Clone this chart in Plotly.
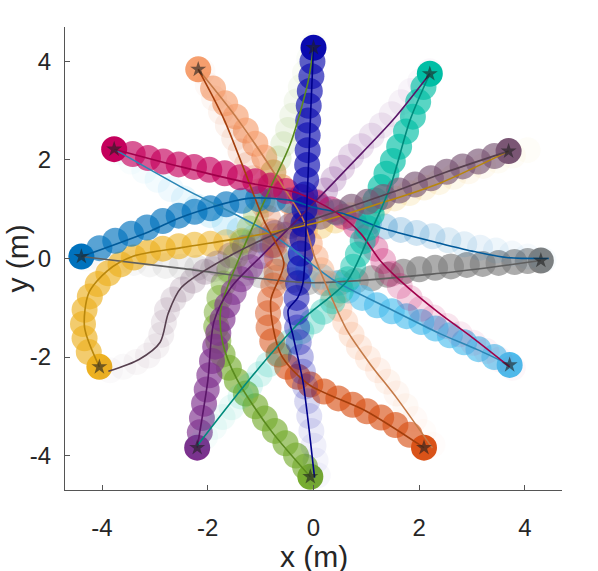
import plotly.graph_objects as go

# trail centres for each robot, from start (faded) to end (solid)
navy_x = [0.08, 0.04, 0.0, -0.04, -0.08, -0.12, -0.16, -0.2, -0.24, -0.28, -0.31, -0.33, -0.32, -0.29, -0.26, -0.24, -0.21, -0.19, -0.17, -0.16, -0.14, -0.12, -0.11, -0.11, -0.1, -0.09, -0.07, -0.04, -0.02, 0.0]
navy_y = [-4.4, -4.1, -3.8, -3.5, -3.2, -2.9, -2.6, -2.3, -2.0, -1.7, -1.4, -1.1, -0.8, -0.5, -0.2, 0.1, 0.4, 0.7, 1.0, 1.3, 1.6, 1.9, 2.2, 2.5, 2.8, 3.1, 3.4, 3.7, 4.0, 4.28]
navy_line_x = [0.0, -0.06, -0.13, -0.2, -0.3, -0.48, -0.38, -0.2, -0.08, 0.02]
navy_line_y = [4.3, 2.8, 1.0, -0.5, -0.8, -1.05, -1.6, -2.5, -3.5, -4.45]

teal_x = [-2.2, -2.05, -1.88, -1.72, -1.55, -1.38, -1.2, -1.02, -0.85, -0.65, -0.45, -0.23, -0.02, 0.18, 0.36, 0.52, 0.65, 0.75, 0.84, 0.93, 1.02, 1.1, 1.17, 1.27, 1.38, 1.5, 1.62, 1.75, 1.88, 1.98, 2.08, 2.2]
teal_y = [-3.8, -3.62, -3.42, -3.22, -3.02, -2.8, -2.58, -2.35, -2.15, -1.93, -1.7, -1.48, -1.28, -1.08, -0.87, -0.65, -0.42, -0.17, 0.08, 0.35, 0.62, 0.9, 1.18, 1.45, 1.72, 1.98, 2.27, 2.58, 2.88, 3.18, 3.48, 3.75]
teal_line_x = [-2.2, -1.24, -0.24, 0.64, 1.07, 1.45, 1.83, 2.2]
teal_line_y = [-3.8, -2.49, -1.27, -0.45, 0.51, 1.45, 2.82, 3.75]

mauve_x = [-3.85, -3.6, -3.35, -3.13, -2.97, -2.88, -2.83, -2.77, -2.65, -2.48, -2.28, -2.05, -1.82, -1.57, -1.3, -1.02, -0.73, -0.44, -0.15, 0.13, 0.42, 0.72, 1.02, 1.32, 1.62, 1.92, 2.22, 2.52, 2.82, 3.12, 3.42, 3.69]
mauve_y = [-2.27, -2.2, -2.1, -1.97, -1.78, -1.55, -1.3, -1.05, -0.83, -0.63, -0.45, -0.27, -0.1, 0.06, 0.22, 0.38, 0.52, 0.66, 0.78, 0.85, 0.95, 1.05, 1.15, 1.25, 1.38, 1.5, 1.63, 1.76, 1.87, 1.97, 2.08, 2.18]
mauve_line_x = [-3.88, -3.3, -2.9, -2.75, -2.5, -1.5, -0.43, 0.5, 1.5, 2.5, 3.69]
mauve_line_y = [-2.29, -2.05, -1.7, -1.12, -0.59, 0.1, 0.63, 0.98, 1.35, 1.75, 2.18]

gray_x = [-4.3, -4.0, -3.7, -3.4, -3.1, -2.8, -2.5, -2.2, -1.9, -1.6, -1.3, -1.0, -0.7, -0.4, -0.1, 0.2, 0.5, 0.8, 1.1, 1.4, 1.7, 2.0, 2.3, 2.6, 2.9, 3.2, 3.5, 3.8, 4.05, 4.3]
gray_y = [0.0, -0.03, -0.06, -0.09, -0.12, -0.15, -0.17, -0.19, -0.22, -0.26, -0.3, -0.34, -0.39, -0.44, -0.48, -0.5, -0.49, -0.45, -0.4, -0.33, -0.27, -0.22, -0.19, -0.16, -0.13, -0.11, -0.09, -0.07, -0.05, -0.04]
gray_line_x = [-4.39, -2.5, -0.1, 2.4, 4.3]
gray_line_y = [0.04, -0.2, -0.49, -0.3, -0.04]

sky_x = [-3.71, -3.45, -3.2, -2.95, -2.7, -2.45, -2.2, -1.95, -1.68, -1.4, -1.12, -0.85, -0.6, -0.35, -0.1, 0.15, 0.4, 0.65, 0.92, 1.2, 1.48, 1.76, 2.04, 2.31, 2.58, 2.85, 3.12, 3.42, 3.71]
sky_y = [2.16, 1.97, 1.78, 1.6, 1.41, 1.22, 1.05, 0.88, 0.73, 0.58, 0.43, 0.27, 0.1, -0.08, -0.23, -0.37, -0.51, -0.65, -0.8, -0.95, -1.07, -1.17, -1.29, -1.42, -1.56, -1.7, -1.84, -2.0, -2.16]
sky_line_x = [-3.77, -2.5, -0.8, 0.4, 1.4, 2.4, 3.1, 3.71]
sky_line_y = [2.22, 1.45, 0.5, -0.45, -1.0, -1.53, -1.85, -2.16]

orange_x = [-2.1, -2.0, -1.88, -1.75, -1.62, -1.5, -1.38, -1.26, -1.14, -1.03, -0.94, -0.86, -0.79, -0.73, -0.69, -0.7, -0.76, -0.82, -0.86, -0.85, -0.78, -0.66, -0.5, -0.3, -0.06, 0.2, 0.47, 0.74, 1.01, 1.28, 1.55, 1.82, 2.09]
orange_y = [3.8, 3.52, 3.25, 2.98, 2.71, 2.44, 2.17, 1.9, 1.63, 1.36, 1.09, 0.82, 0.55, 0.28, 0.01, -0.27, -0.55, -0.83, -1.11, -1.4, -1.68, -1.95, -2.2, -2.4, -2.56, -2.7, -2.84, -2.97, -3.1, -3.23, -3.38, -3.58, -3.84]
orange_line_x = [-2.18, -1.69, -0.94, -0.56, -0.81, -0.62, -0.1, 1.0, 2.09]
orange_line_y = [3.84, 2.82, 0.78, -0.1, -0.86, -1.94, -2.55, -3.1, -3.84]

green_x = [0.0, -0.08, -0.16, -0.24, -0.32, -0.4, -0.48, -0.57, -0.66, -0.76, -0.86, -0.97, -1.09, -1.21, -1.34, -1.47, -1.59, -1.7, -1.78, -1.83, -1.84, -1.8, -1.72, -1.6, -1.45, -1.28, -1.1, -0.92, -0.73, -0.53, -0.33, -0.16, -0.06]
green_y = [4.35, 4.06, 3.77, 3.48, 3.19, 2.9, 2.61, 2.32, 2.03, 1.74, 1.45, 1.17, 0.89, 0.61, 0.33, 0.05, -0.23, -0.51, -0.8, -1.09, -1.38, -1.67, -1.95, -2.22, -2.48, -2.74, -3.0, -3.25, -3.5, -3.75, -4.0, -4.23, -4.43]
green_line_x = [0.0, -0.1, -0.43, -0.81, -1.37, -1.75, -1.72, -1.45, -0.8, -0.06]
green_line_y = [4.3, 3.6, 2.35, 1.45, 0.1, -1.0, -1.7, -2.45, -3.5, -4.43]

purple_x = [2.2, 2.02, 1.84, 1.66, 1.48, 1.29, 1.1, 0.9, 0.71, 0.54, 0.38, 0.22, 0.05, -0.13, -0.33, -0.55, -0.78, -1.0, -1.2, -1.37, -1.51, -1.63, -1.72, -1.8, -1.86, -1.92, -1.97, -2.02, -2.07, -2.11, -2.15, -2.2]
purple_y = [3.8, 3.6, 3.4, 3.17, 2.93, 2.7, 2.49, 2.28, 2.07, 1.84, 1.61, 1.38, 1.15, 0.92, 0.7, 0.48, 0.27, 0.05, -0.18, -0.42, -0.68, -0.95, -1.23, -1.51, -1.79, -2.08, -2.37, -2.66, -2.95, -3.24, -3.53, -3.84]
purple_line_x = [2.2, 1.51, 0.7, 0.0, -0.94, -1.56, -1.88, -2.0, -2.2]
purple_line_y = [3.75, 2.82, 1.9, 1.12, 0.1, -0.59, -1.27, -2.49, -3.84]

yellow_x = [4.05, 3.77, 3.49, 3.21, 2.93, 2.65, 2.37, 2.09, 1.81, 1.53, 1.25, 0.97, 0.69, 0.41, 0.13, -0.16, -0.45, -0.75, -1.05, -1.35, -1.65, -1.95, -2.25, -2.55, -2.85, -3.13, -3.4, -3.65, -3.88, -4.08, -4.23, -4.33, -4.36, -4.33, -4.25, -4.05]
yellow_y = [2.2, 2.09, 1.99, 1.88, 1.77, 1.66, 1.55, 1.44, 1.33, 1.22, 1.11, 0.99, 0.88, 0.77, 0.66, 0.58, 0.51, 0.45, 0.4, 0.36, 0.33, 0.3, 0.28, 0.25, 0.2, 0.12, 0.02, -0.12, -0.3, -0.52, -0.77, -1.04, -1.33, -1.62, -1.9, -2.2]
yellow_line_x = [3.69, 2.39, 1.2, 0.0, -1.2, -2.5, -3.4, -3.9, -4.25, -4.33, -4.05]
yellow_line_y = [2.18, 1.53, 1.1, 0.71, 0.45, 0.22, 0.05, -0.25, -0.7, -1.4, -2.2]

blue_x = [4.35, 4.05, 3.75, 3.45, 3.15, 2.85, 2.55, 2.25, 1.95, 1.65, 1.35, 1.05, 0.75, 0.45, 0.15, -0.15, -0.45, -0.75, -1.05, -1.35, -1.65, -1.95, -2.25, -2.55, -2.85, -3.15, -3.45, -3.75, -4.05, -4.39]
blue_y = [-0.03, 0.04, 0.1, 0.16, 0.22, 0.29, 0.37, 0.45, 0.52, 0.58, 0.65, 0.73, 0.82, 0.93, 1.03, 1.12, 1.18, 1.2, 1.21, 1.17, 1.1, 1.02, 0.95, 0.87, 0.76, 0.63, 0.5, 0.36, 0.21, 0.04]
blue_line_x = [-4.39, -3.1, -2.5, -1.24, -0.43, 0.0, 0.6, 1.26, 2.39, 3.0, 3.65, 4.45]
blue_line_y = [0.04, 0.55, 0.84, 1.22, 1.18, 1.04, 0.9, 0.63, 0.31, 0.15, 0.02, 0.0]

crimson_x = [3.77, 3.52, 3.27, 3.02, 2.77, 2.52, 2.27, 2.03, 1.82, 1.63, 1.47, 1.32, 1.17, 1.0, 0.8, 0.57, 0.32, 0.05, -0.23, -0.52, -0.81, -1.1, -1.39, -1.68, -1.97, -2.26, -2.55, -2.84, -3.13, -3.42, -3.77]
crimson_y = [-2.22, -2.05, -1.88, -1.71, -1.54, -1.37, -1.2, -1.02, -0.8, -0.56, -0.31, -0.05, 0.2, 0.44, 0.66, 0.85, 1.0, 1.13, 1.25, 1.37, 1.48, 1.57, 1.65, 1.73, 1.8, 1.86, 1.91, 1.97, 2.04, 2.12, 2.22]
crimson_line_x = [-3.77, -2.5, -1.3, -0.3, 0.45, 0.89, 1.26, 1.64, 2.39, 3.0, 3.71]
crimson_line_y = [2.22, 1.86, 1.55, 1.33, 0.92, 0.51, -0.04, -0.45, -1.12, -1.6, -2.2]

salmon_x = [2.25, 2.08, 1.91, 1.74, 1.57, 1.4, 1.22, 1.03, 0.86, 0.72, 0.6, 0.49, 0.38, 0.27, 0.15, 0.04, -0.07, -0.19, -0.32, -0.45, -0.6, -0.76, -0.93, -1.1, -1.28, -1.47, -1.67, -1.9, -2.18]
salmon_y = [-3.78, -3.52, -3.26, -3.0, -2.74, -2.5, -2.27, -2.03, -1.8, -1.55, -1.29, -1.02, -0.76, -0.5, -0.24, 0.02, 0.3, 0.57, 0.85, 1.15, 1.45, 1.75, 2.05, 2.33, 2.6, 2.88, 3.15, 3.45, 3.84]
salmon_line_x = [-2.18, -1.43, -0.6, -0.19, 0.0, 0.26, 0.64, 1.07, 1.58, 2.25]
salmon_line_y = [3.84, 2.82, 1.5, 0.78, 0.1, -0.59, -1.47, -2.14, -2.84, -3.85]

# (trail x, trail y, line x, line y, trail rgb, line colour, fade span) in drawing order
robots = [
    (gray_x, gray_y, gray_line_x, gray_line_y, (128, 128, 128), '#5f5f5f', 0.7),
    (yellow_x, yellow_y, yellow_line_x, yellow_line_y, (237, 177, 32), '#b8860b', 0.7),
    (sky_x, sky_y, sky_line_x, sky_line_y, (77, 190, 238), '#2b86b5', 0.7),
    (salmon_x, salmon_y, salmon_line_x, salmon_line_y, (246, 160, 112), '#c47a48', 0.7),
    (green_x, green_y, green_line_x, green_line_y, (119, 172, 48), '#5a8a1e', 0.7),
    (purple_x, purple_y, purple_line_x, purple_line_y, (126, 47, 142), '#5a1668', 0.7),
    (orange_x, orange_y, orange_line_x, orange_line_y, (217, 83, 25), '#a33e0c', 0.7),
    (blue_x, blue_y, blue_line_x, blue_line_y, (0, 114, 189), '#005a9a', 0.7),
    (crimson_x, crimson_y, crimson_line_x, crimson_line_y, (196, 0, 92), '#a0004a', 0.7),
    (teal_x, teal_y, teal_line_x, teal_line_y, (0, 190, 165), '#008a7c', 0.7),
    (mauve_x, mauve_y, mauve_line_x, mauve_line_y, (122, 86, 116), '#57404f', 0.7),
    (navy_x, navy_y, navy_line_x, navy_line_y, (10, 10, 175), '#00008a', 0.5),
]

fig = go.Figure()

for tx, ty, lx, ly, rgb, lc, span in robots:
    n = len(tx)
    cols = []
    for i in range(n):
        t = i / (n - 1)
        a = 1.0 if i == n - 1 else 0.03 + 0.62 * min(1.0, t / span) ** 1.5
        cols.append('rgba(%d,%d,%d,%.3f)' % (rgb[0], rgb[1], rgb[2], a))
    fig.add_trace(go.Scatter(
        x=tx, y=ty, mode='markers',
        marker=dict(size=26, color=cols, line=dict(width=0)),
        hoverinfo='skip', showlegend=False
    ))

for tx, ty, lx, ly, rgb, lc, span in robots:
    fig.add_trace(go.Scatter(
        x=lx, y=ly, mode='lines',
        line=dict(color=lc, width=1.6, shape='spline', smoothing=0.8),
        hoverinfo='skip', showlegend=False
    ))

# stars on the final positions
fig.add_trace(go.Scatter(
    x=[r[0][-1] for r in robots], y=[r[1][-1] for r in robots],
    mode='markers',
    marker=dict(symbol='star', size=12, color='rgba(30,30,30,0.6)', line=dict(width=0)),
    hoverinfo='skip', showlegend=False
))

font_name = 'Liberation Sans, Arial, sans-serif'
tick_font = dict(family=font_name, size=24, color='#262626')
title_font = dict(family=font_name, size=30, color='#262626')

fig.update_layout(
    width=598, height=571,
    margin=dict(l=65, r=36, t=27, b=81),
    plot_bgcolor='white', paper_bgcolor='white',
    font=tick_font,
)
fig.update_xaxes(
    range=[-4.7, 4.7], tickvals=[-4, -2, 0, 2, 4], ticktext=['-4', '-2', '0', '2', '4'],
    showline=True, linecolor='#555555', linewidth=1, mirror=False,
    ticks='inside', ticklen=5, tickcolor='#555555', showgrid=False, zeroline=False,
    tickfont=tick_font, ticklabelstandoff=16, automargin=False,
)
fig.update_yaxes(
    range=[-4.7, 4.7], tickvals=[-4, -2, 0, 2, 4], ticktext=['-4', '-2', '0', '2', '4'],
    showline=True, linecolor='#555555', linewidth=1, mirror=False,
    ticks='inside', ticklen=5, tickcolor='#555555', showgrid=False, zeroline=False,
    tickfont=tick_font, ticklabelstandoff=8, automargin=False,
)

# axis titles placed as annotations so they sit where the original has them
fig.add_annotation(text='x (m)', xref='paper', yref='paper', x=0.5, y=0,
                   xanchor='center', yanchor='middle', yshift=-66,
                   showarrow=False, font=title_font)
fig.add_annotation(text='y (m)', xref='paper', yref='paper', x=0, y=0.5,
                   xanchor='center', yanchor='middle', xshift=-48, textangle=-90,
                   showarrow=False, font=title_font)

# drop the browser's default page margin so the figure fills the window
fig.write_html("out.html", config={'displayModeBar': False},
               post_script="document.body.style.margin='0px';")
